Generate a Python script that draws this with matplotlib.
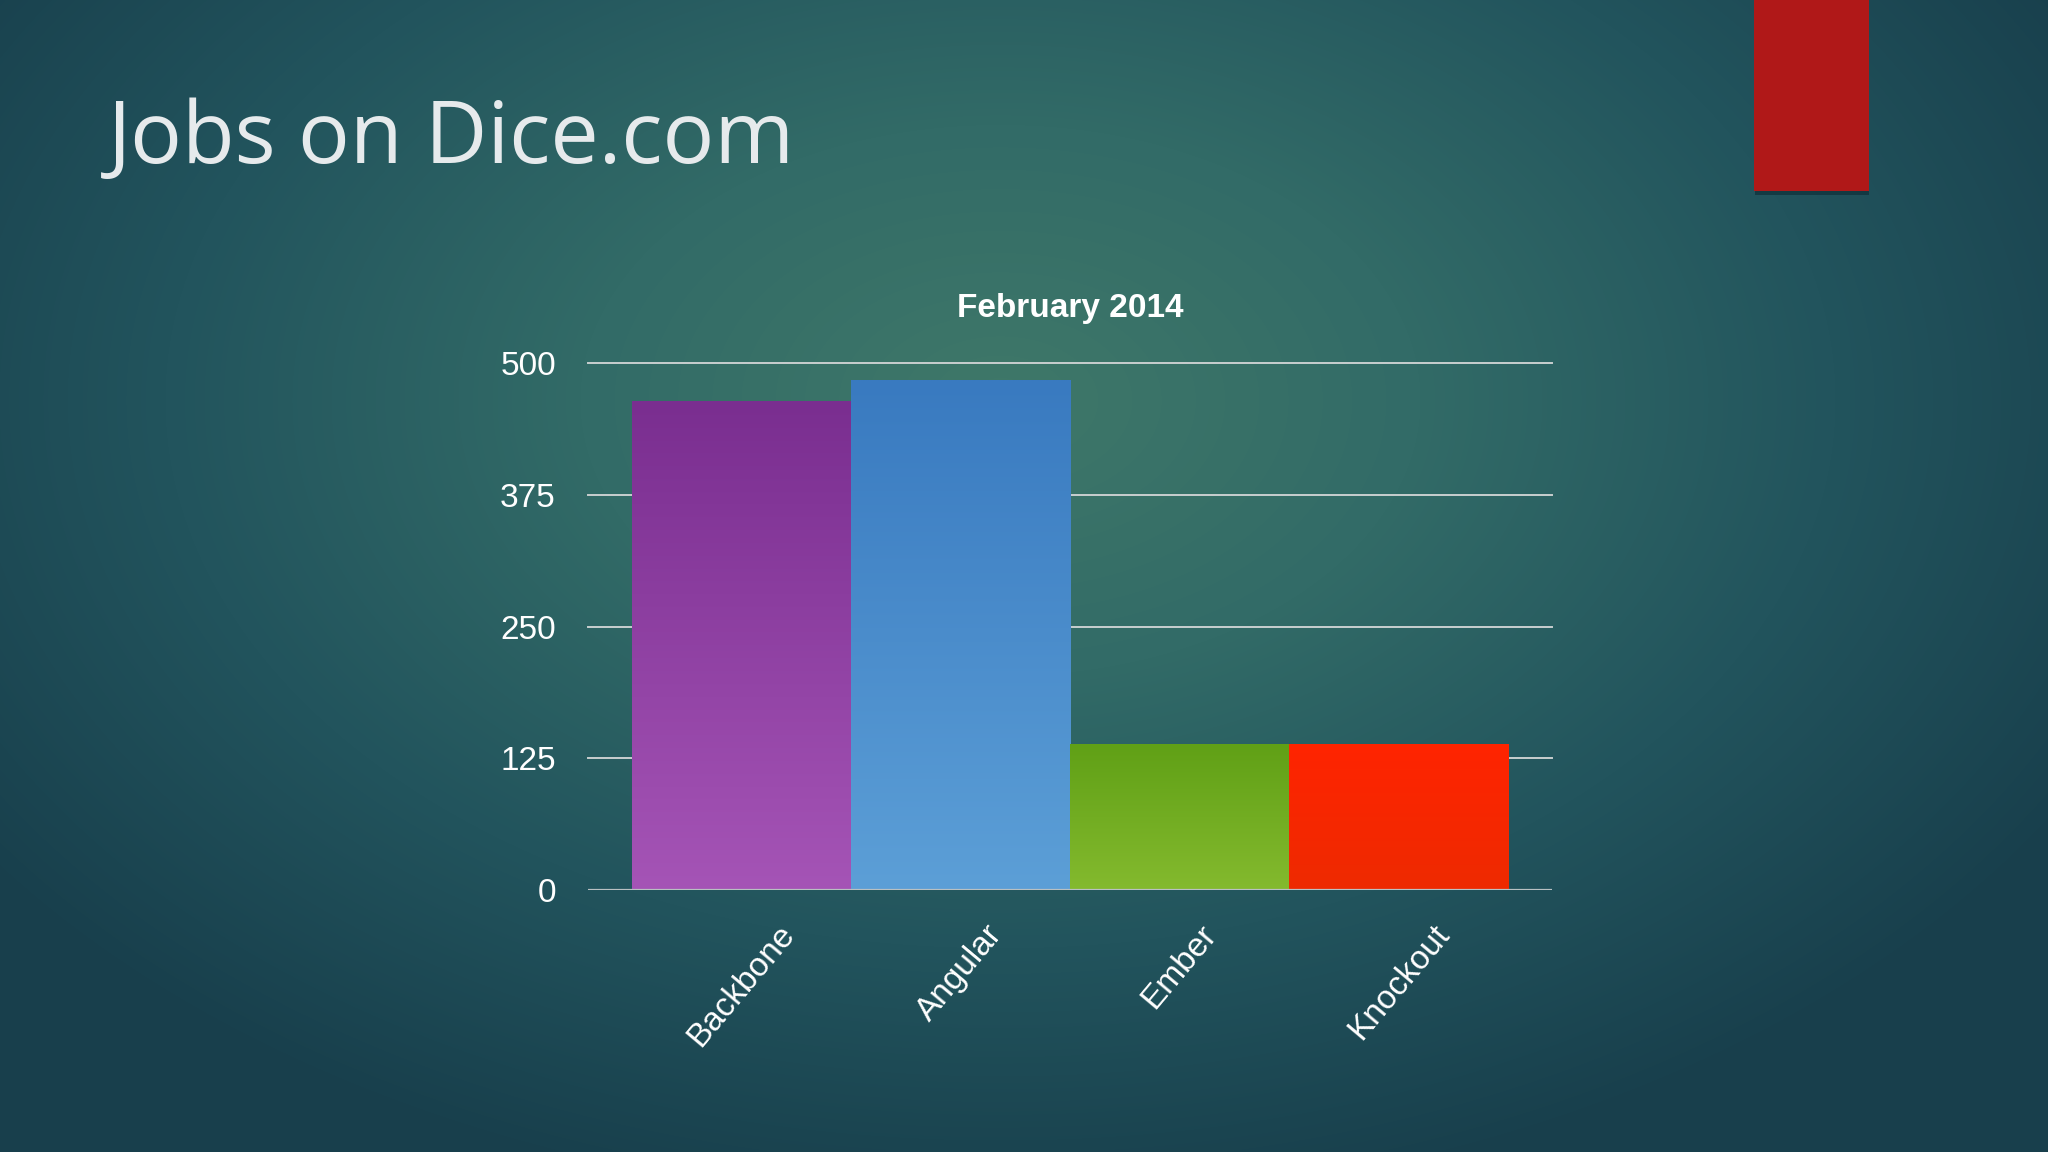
import numpy as np
import matplotlib.pyplot as plt
from matplotlib.colors import LinearSegmentedColormap

# data
frameworks = ['Backbone', 'Angular', 'Ember', 'Knockout']
jobs = [464, 483, 138, 138]
y_ticks = [0, 125, 250, 375, 500]
chart_title = 'February 2014'
slide_title = 'Jobs on Dice.com'

# bar gradients (top colour, bottom colour)
bar_colors = [('#7a2e90', '#a554b6'), ('#397ac0', '#5c9fd7'),
              ('#60a016', '#84ba2e'), ('#ff2400', '#ee2a00')]

W, H = 2048, 1152
fig = plt.figure(figsize=(W / 100, H / 100), dpi=100)

# slide background: radial teal gradient
bg = fig.add_axes([0, 0, 1, 1], zorder=-10)
yy, xx = np.mgrid[0:H, 0:W]
r = np.sqrt(((xx - 1000) / 1250.0) ** 2 + ((yy - 400) / 820.0) ** 2)
r = np.clip(r, 0, 1)
bg_cmap = LinearSegmentedColormap.from_list('bg', ['#3f7869', '#326b67', '#22545d', '#183f4c'])
bg.imshow(r, cmap=bg_cmap, aspect='auto', extent=[0, W, H, 0])
bg.set_xlim(0, W)
bg.set_ylim(H, 0)
bg.axis('off')

# red accent block in the top-right corner
bg.add_patch(plt.Rectangle((1755, 190), 114, 5, color='#0c2a33', alpha=0.6, lw=0))
bg.add_patch(plt.Rectangle((1754, 0), 115, 191, color='#b01818', lw=0))

bg.text(108, 163, slide_title, fontsize=62, color='#e6eaec',
        family='Open Sans', ha='left', va='baseline')

ax = fig.add_axes([0.287, 0.2274, 0.471, 0.4574])
ax.set_facecolor('none')
x = np.arange(len(frameworks))
bars = ax.bar(x, jobs, width=1.0, color='none', zorder=3)

for b, (top, bottom) in zip(bars, bar_colors):
    cm = LinearSegmentedColormap.from_list('g', [top, bottom])
    grad = np.linspace(0, 1, 256).reshape(-1, 1)
    x0, y0 = b.get_x(), b.get_y()
    ax.imshow(grad, cmap=cm, aspect='auto', zorder=3, origin='upper',
              extent=[x0, x0 + b.get_width(), y0, y0 + b.get_height()])

ax.set_xlim(-0.7, 3.7)
ax.set_ylim(0, 500)
ax.set_yticks(y_ticks)
ax.set_yticklabels([str(v) for v in y_ticks])
for v in y_ticks[1:]:
    ax.axhline(v, color='#c9cfcf', lw=1.4, zorder=1, clip_on=False)
ax.axhline(0, color='#b9c0c2', lw=1.6, zorder=4)

for s in ax.spines.values():
    s.set_visible(False)
ax.tick_params(axis='both', length=0, colors='white', labelsize=24)
ax.tick_params(axis='y', pad=23)
ax.set_xticks(x)
ax.set_xticklabels(frameworks, rotation=50, ha='center', va='top',
                   family='Liberation Sans', fontsize=24, color='white')
ax.tick_params(axis='x', pad=21)
for t in ax.get_yticklabels():
    t.set_family('Liberation Sans')

ax.set_title(chart_title, fontsize=24, fontweight='bold', color='white',
             family='Liberation Sans', pad=33)

fig.savefig('out.png', dpi=100)
